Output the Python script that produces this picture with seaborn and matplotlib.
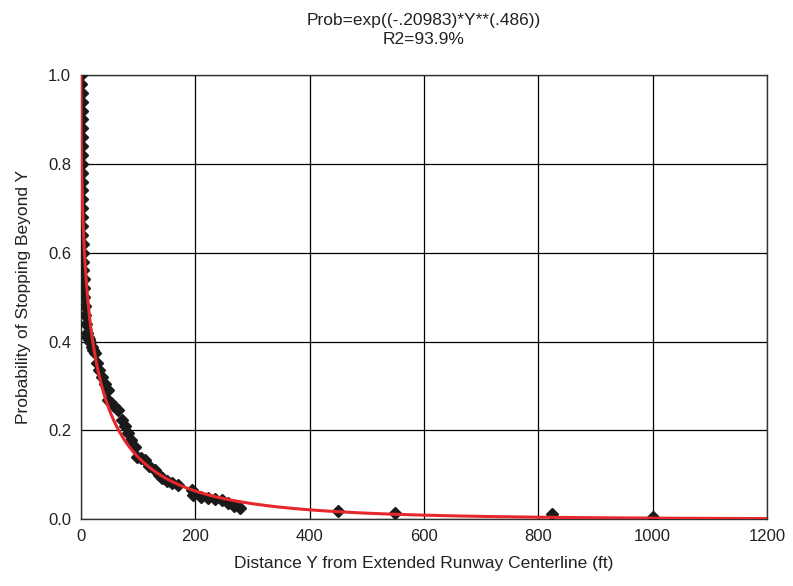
import numpy as np
import pandas as pd
import matplotlib
matplotlib.use('Agg')
import matplotlib.pyplot as plt
import seaborn as sns

# observed points (distance in ft, probability of stopping beyond)
dist_ft = [1.0, 1.0, 1.2, 1.2, 1.3, 1.3, 1.4, 1.4, 1.5, 1.5, 1.6, 1.6, 1.7, 1.8, 1.9,
           2.0, 2.1, 2.3, 2.5, 3, 3.5, 4, 4.5, 5, 5.5, 6, 7, 8, 9, 10, 11,
           12, 14, 16, 19, 22, 25, 28, 32, 37, 42, 47, 47, 52, 58, 65, 72, 77, 82, 88, 94,
           98, 105, 112, 120, 129, 136, 142, 150, 159, 170, 194, 196, 210, 222, 235,
           247, 257, 268, 278, 450, 549, 824, 1000]
prob = [1.0, 0.98, 0.96, 0.94, 0.92, 0.90, 0.88, 0.86, 0.84, 0.82, 0.80, 0.78, 0.76,
        0.74, 0.72, 0.70, 0.68, 0.66, 0.64, 0.62, 0.60, 0.58, 0.56, 0.54, 0.52, 0.50,
        0.48, 0.46, 0.44, 0.42, 0.41,
        0.41, 0.405, 0.40, 0.387, 0.38, 0.374, 0.351, 0.335, 0.32, 0.305, 0.29, 0.268,
        0.262, 0.255, 0.245, 0.223, 0.21, 0.194, 0.178, 0.162, 0.14, 0.137, 0.133, 0.12,
        0.11, 0.10, 0.092, 0.086, 0.081, 0.077, 0.065, 0.054, 0.05, 0.047, 0.045,
        0.043, 0.036, 0.03, 0.025, 0.018, 0.0135, 0.011, 0.004]

# fitted model from the title
fit_a = -0.20983
fit_b = 0.486
fit_x = np.linspace(0, 1200, 4000)
fit_y = np.exp(fit_a * fit_x ** fit_b)

df = pd.DataFrame({'dist': dist_ft, 'prob': prob})

sns.set_style('white')
plt.rcParams['font.family'] = ['Liberation Sans', 'DejaVu Sans']

fig = plt.figure(figsize=(7.93, 5.86), dpi=100)
ax = fig.add_axes([0.102, 0.114, 0.865, 0.758])

sns.scatterplot(data=df, x='dist', y='prob', marker='D', s=32, color='#1a1a1a',
                edgecolor='#1a1a1a', linewidth=1.5, ax=ax, zorder=3)
sns.lineplot(x=fit_x, y=fit_y, color='#e8272c', linewidth=2.2, ax=ax, zorder=4)

ax.set_xlim(0, 1200)
ax.set_ylim(0, 1.0)
ax.set_xticks(range(0, 1201, 200))
ax.set_yticks(np.arange(0, 1.01, 0.2))
ax.set_yticklabels([f'{v:.1f}' for v in np.arange(0, 1.01, 0.2)])
ax.grid(True, color='black', linewidth=0.9)
for s in ax.spines.values():
    s.set_color('#333333')
    s.set_linewidth(1.0)
ax.tick_params(labelsize=12, length=0, pad=7, colors='#222222')

ax.set_xlabel('Distance Y from Extended Runway Centerline (ft)', fontsize=12.5,
              color='#222222', labelpad=9)
ax.set_ylabel('Probability of Stopping Beyond Y', fontsize=12.5, color='#222222',
              labelpad=12)
ax.set_title('Prob=exp((-.20983)*Y**(.486))\nR2=93.9%', fontsize=12.5, color='#222222',
             pad=22, linespacing=1.35)

fig.savefig('out.png', dpi=100)
